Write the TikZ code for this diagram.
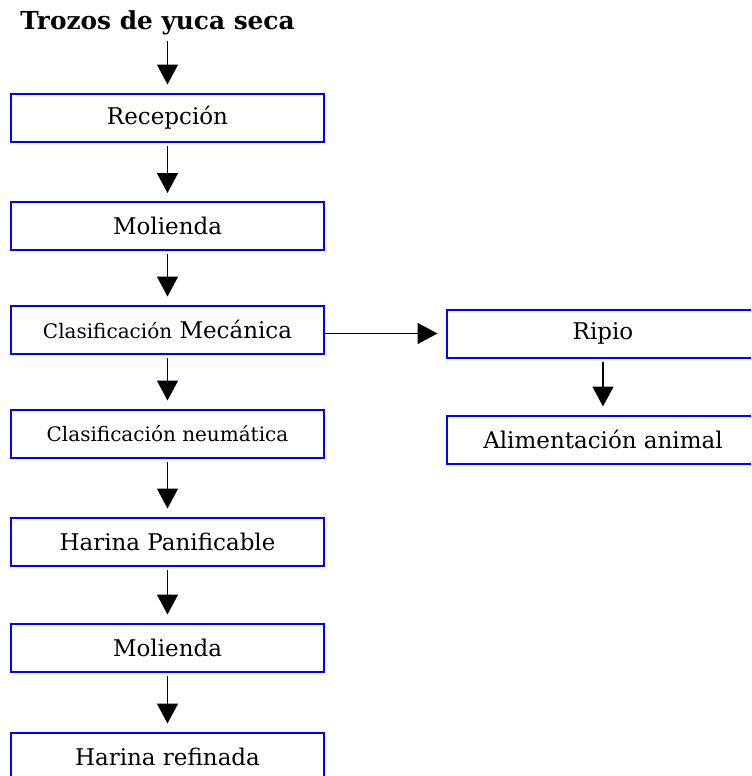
\documentclass[tikz,border=0pt]{standalone}
\usepackage{fontspec}
\setmainfont{DejaVu Serif}
\usetikzlibrary{arrows.meta}

\newcommand{\chico}{\fontsize{10}{12}\selectfont}

\begin{document}
\begin{tikzpicture}[x=0.5pt, y=-0.5pt, >={Triangle[length=10pt,width=10.5pt]},
    font=\fontsize{11.5}{13.8}\selectfont,
    paso/.style={draw=blue, line width=1pt, minimum width=156.5pt,
                 minimum height=24pt, inner sep=0pt, align=center},
    flecha/.style={->, line width=0.8pt, shorten <=1.5pt, shorten >=4pt}]
  \useasboundingbox (0,0) rectangle (751,776);
  \clip (0,0) rectangle (751,776);
  %% Entrada
  \node[font=\fontsize{12.4}{14.8}\selectfont\bfseries, inner sep=0pt, anchor=base]
    (titulo) at (157.5,29) {Trozos de yuca seca};
  %% Linea principal
  \node[paso] (rec)  at (167.5,117.5) {Recepción};
  \node[paso] (mol1) at (167.5,226)   {Molienda};
  \node[paso] (cmec) at (167.5,329.5) {{\chico Clasificación} Mecánica};
  \node[paso] (cneu) at (167.5,433.5) {\chico Clasificación neumática};
  \node[paso] (hpan) at (167.5,541.5) {Harina Panificable};
  \node[paso] (mol2) at (167.5,647.5) {Molienda};
  \node[paso] (href) at (167.5,756.5) {Harina refinada};
  %% Subproducto
  \node[paso] (rip)  at (603,333.5) {Ripio};
  \node[paso] (alim) at (603,439.5) {Alimentación animal};
  %% Flechas
  \draw[flecha, shorten <=3pt] (titulo.south -| rec.north) -- (rec.north);
  \foreach \a/\b in {rec/mol1, mol1/cmec, cmec/cneu, cneu/hpan,
                     hpan/mol2, mol2/href, rip/alim}
    \draw[flecha] (\a) -- (\b);
  \draw[flecha, shorten <=0pt] (cmec.east |- rip.west) -- (rip.west);
\end{tikzpicture}
\end{document}
